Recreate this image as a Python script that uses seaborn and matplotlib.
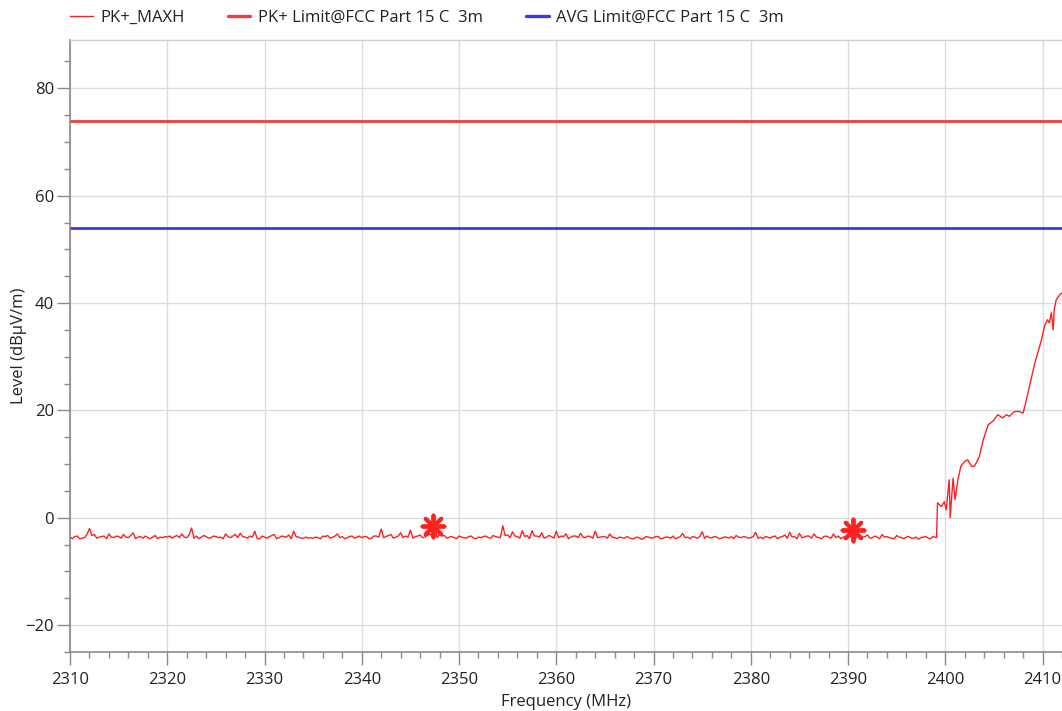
import numpy as np
import pandas as pd
import matplotlib
matplotlib.use("Agg")
import matplotlib.pyplot as plt
from matplotlib.ticker import MultipleLocator
from matplotlib.lines import Line2D
import seaborn as sns

# Noise floor of the peak max-hold trace, 0.5 MHz steps from 2310 MHz
floor_start = 2310.0
floor_step = 0.5
floor_level = [
    -3.6, -3.5, -3.9, -3.7, -2.0, -3.1, -3.6, -3.4, -3.0, -3.7,
    -3.5, -3.1, -3.7, -2.8, -3.6, -3.8, -3.7, -3.6, -3.9, -3.7,
    -3.6, -3.8, -3.3, -3.0, -3.7, -1.9, -3.4, -3.6, -3.5, -3.7,
    -3.5, -3.6, -3.0, -3.7, -3.1, -2.9, -3.6, -3.4, -2.5, -3.9,
    -3.6, -3.5, -3.1, -3.7, -3.5, -3.2, -2.5, -3.6, -3.8, -3.8,
    -3.8, -3.7, -3.4, -3.3, -3.6, -3.0, -3.5, -3.7, -3.4, -3.6,
    -3.7, -3.5, -3.8, -3.4, -2.1, -3.5, -3.1, -3.6, -2.8, -3.4,
    -2.3, -3.5, -3.2, -3.6, -3.0, -1.6, -3.1, -3.3, -3.6, -3.7,
    -3.4, -3.7, -3.5, -3.8, -3.6, -3.5, -3.7, -3.3, -3.6, -1.5,
    -3.2, -2.6, -3.5, -2.4, -3.3, -2.4, -3.4, -2.8, -3.6, -3.5,
    -2.5, -3.4, -3.0, -3.6, -3.4, -2.9, -3.7, -3.5, -2.5, -3.6,
    -3.5, -3.0, -3.7, -3.6, -3.8, -3.7, -3.9, -3.7, -3.8, -3.6,
    -3.7, -3.5, -3.8, -3.6, -3.4, -3.7, -2.9, -3.6, -3.5, -3.8,
    -2.6, -3.4, -3.7, -3.6, -3.8, -3.6, -3.5, -3.3, -3.7, -3.6,
    -3.7, -2.7, -3.6, -3.5, -3.8, -3.4, -3.6, -3.2, -2.7, -3.5,
    -2.9, -3.6, -3.4, -3.0, -3.7, -3.5, -3.6, -3.0, -3.4, -3.6,
    -3.1, -2.2, -3.4, -3.6, -3.2, -3.7, -3.6, -3.1, -3.5, -3.8,
    -3.3, -3.7, -3.6, -3.8, -3.6, -3.7, -3.5, -3.9,
]
# Sweep points lying halfway between the ones above (2310.25, 2310.75, ...)
floor_level_mid = [
    -3.9, -3.4, -3.8, -3.1, -3.3, -3.8, -3.5, -3.9, -3.6, -3.4,
    -3.8, -3.6, -3.3, -3.9, -3.5, -3.4, -3.9, -3.3, -3.6, -3.5,
    -3.4, -3.5, -3.7, -3.6, -3.2, -3.8, -3.9, -3.3, -3.8, -3.4,
    -3.7, -3.9, -3.5, -3.4, -3.7, -3.5, -3.8, -3.6, -3.9, -3.4,
    -3.8, -3.3, -3.9, -3.4, -3.6, -3.9, -3.5, -3.8, -3.6, -3.7,
    -3.6, -3.9, -3.5, -3.8, -3.4, -3.7, -3.9, -3.5, -3.8, -3.4,
    -3.5, -3.9, -3.4, -3.6, -3.7, -3.3, -3.8, -3.4, -3.7, -3.6,
    -3.8, -3.4, -3.7, -3.3, -3.5, -3.7, -3.4, -3.8, -3.5, -3.9,
    -3.6, -3.8, -3.4, -3.9, -3.7, -3.4, -3.8, -3.5, -3.7, -3.3,
    -3.7, -3.4, -3.8, -3.5, -3.9, -3.4, -3.6, -3.8, -3.3, -3.8,
    -3.7, -3.5, -3.9, -3.4, -3.7, -3.6, -3.4, -3.8, -3.7, -3.5,
    -3.8, -3.6, -3.9, -3.7, -3.5, -3.9, -3.6, -4.0, -3.5, -3.8,
    -3.5, -3.9, -3.6, -3.8, -3.9, -3.5, -3.7, -3.9, -3.6, -3.5,
    -3.8, -3.7, -3.5, -3.9, -3.6, -3.8, -3.9, -3.6, -3.5, -3.8,
    -3.5, -3.8, -3.9, -3.6, -3.5, -3.9, -3.5, -3.8, -3.6, -3.9,
    -3.7, -3.4, -3.8, -3.6, -3.9, -3.4, -3.8, -3.7, -3.9, -3.5,
    -3.6, -3.8, -3.9, -3.5, -3.8, -3.4, -3.9, -3.6, -3.7, -3.9,
    -3.6, -3.9, -3.5, -3.8, -4.0, -3.6, -3.8,
]

# Band-edge rise towards the 2.4 GHz carrier
edge_freq = [
    2398.7, 2399.1, 2399.2, 2399.6, 2399.9, 2400.1, 2400.4, 2400.5, 2400.8,
    2401.0, 2401.3, 2401.6, 2402.0, 2402.3, 2402.7, 2403.0, 2403.5, 2403.9,
    2404.4, 2404.9, 2405.4, 2405.9, 2406.3, 2406.6, 2407.1, 2407.6, 2408.0,
    2408.3, 2409.2, 2409.9, 2410.2, 2410.5, 2410.7, 2410.9, 2411.1, 2411.2,
    2411.4, 2411.8, 2412.0,
]
edge_level = [
    -3.5, -3.7, 2.8, 2.1, 3.0, 1.5, 7.1, 0.0, 7.4,
    3.4, 7.1, 9.6, 10.5, 10.8, 9.6, 9.6, 11.4, 14.5,
    17.3, 18.0, 19.2, 18.6, 19.2, 18.9, 19.8, 19.8, 19.5,
    21.7, 28.8, 33.2, 35.7, 36.9, 36.3, 38.2, 35.0, 38.8,
    40.6, 41.6, 41.9,
]

# Limits (FCC Part 15 C, 3 m)
pk_limit = 74.0
avg_limit = 54.0

# Peak markers
marker_freq = [2347.3, 2390.5]
marker_level = [-1.5, -2.2]

x_min, x_max = 2310, 2412
y_min, y_max = -25, 89

floor_freq = floor_start + floor_step * np.arange(len(floor_level))
mid_freq = floor_start + floor_step / 2 + floor_step * np.arange(len(floor_level_mid))
trace = pd.DataFrame({
    "freq": np.concatenate([floor_freq, mid_freq, edge_freq]),
    "level": np.concatenate([floor_level, floor_level_mid, edge_level]),
}).sort_values("freq")
limits = pd.DataFrame({
    "freq": [x_min, x_max, x_min, x_max],
    "level": [pk_limit, pk_limit, avg_limit, avg_limit],
    "name": ["pk", "pk", "avg", "avg"],
})
markers = pd.DataFrame({"freq": marker_freq, "level": marker_level})

sns.set_theme(style="whitegrid")
plt.rcParams["font.family"] = ["Open Sans", "DejaVu Sans"]

fig = plt.figure(figsize=(10.62, 7.11), dpi=100)
ax = fig.add_axes([70 / 1062, 1 - 652 / 711, 1 - 70 / 1062, (652 - 40) / 711])

red = "#ff2020"
pk_red = "#f03c3c"
avg_blue = "#3a3ae8"
txt = "#222222"
fs = 12

sns.lineplot(data=trace, x="freq", y="level", ax=ax, color=red, lw=1.0,
             sort=False, estimator=None)
sns.lineplot(data=limits[limits.name == "pk"], x="freq", y="level", ax=ax,
             color=pk_red, lw=2.0, estimator=None)
sns.lineplot(data=limits[limits.name == "avg"], x="freq", y="level", ax=ax,
             color=avg_blue, lw=2.0, estimator=None)
sns.scatterplot(data=markers, x="freq", y="level", ax=ax, marker=(8, 2, 0),
                s=250, color=red, edgecolor=red, linewidth=2.8, zorder=5)

ax.set_xlim(x_min, x_max)
ax.set_ylim(y_min, y_max)
ax.xaxis.set_major_locator(MultipleLocator(10))
ax.xaxis.set_minor_locator(MultipleLocator(2))
ax.yaxis.set_major_locator(MultipleLocator(20))
ax.yaxis.set_minor_locator(MultipleLocator(5))

ax.grid(True, which="major", color="#dcdcdc", lw=1.0)
ax.grid(False, which="minor")
ax.set_facecolor("white")

for side in ("left", "bottom"):
    ax.spines[side].set_color("#8a8a8a")
    ax.spines[side].set_linewidth(1.2)
ax.spines["top"].set_color("#d0d0d0")
ax.spines["top"].set_linewidth(1.0)
ax.spines["right"].set_visible(False)

ax.tick_params(axis="both", which="major", length=9.5, width=1.0,
               color="#8a8a8a", labelsize=fs, labelcolor=txt,
               bottom=True, left=True)
ax.tick_params(axis="x", which="major", pad=5)
ax.tick_params(axis="y", which="major", pad=2)
ax.tick_params(axis="both", which="minor", length=4.5, width=1.0,
               color="#8a8a8a", bottom=True, left=True)

ax.set_xlabel("Frequency (MHz)", fontsize=fs, color=txt, labelpad=4)
ax.set_ylabel("Level (dBμV/m)", fontsize=fs, color=txt, labelpad=-1.5)

handles = [
    Line2D([], [], color=red, lw=1.0),
    Line2D([], [], color=pk_red, lw=2.4),
    Line2D([], [], color=avg_blue, lw=2.4),
]
labels = ["PK+_MAXH", "PK+ Limit@FCC Part 15 C  3m", "AVG Limit@FCC Part 15 C  3m"]
fig.legend(handles, labels, loc="center left",
           bbox_to_anchor=(70 / 1062, 1 - 18 / 711),
           ncol=3, frameon=False, fontsize=fs, handlelength=1.35,
           handletextpad=0.45, columnspacing=2.6, labelcolor=txt,
           borderpad=0, borderaxespad=0)

fig.savefig("out.png", dpi=100)
